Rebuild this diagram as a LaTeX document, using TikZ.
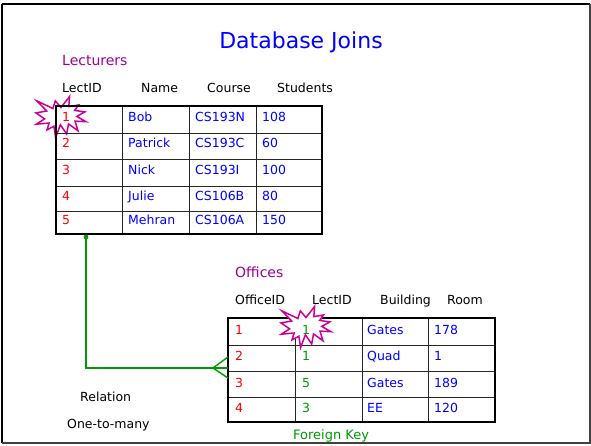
\documentclass[tikz,border=0pt]{standalone}
\usepackage{fontspec}
\setmainfont{DejaVu Sans}
\usetikzlibrary{positioning, calc}

\definecolor{idred}{RGB}{255,0,0}
\definecolor{valblue}{RGB}{0,0,255}
\definecolor{keygreen}{RGB}{0,153,0}
\definecolor{tblpurple}{RGB}{153,0,153}
\definecolor{boommag}{RGB}{204,0,153}

% explosion outline, about 50 x 41 round its centre
\tikzset{
  pics/boom/.style={code={
    \draw[boom] (0,-9.5) -- (8.6,-20.5) -- (7.8,-10.4) -- (17.5,-12) -- (13.7,-6.6)
      -- (23.8,-5.1) -- (15.8,-0.6) -- (25,4.7) -- (14,4.1) -- (17,13.8) -- (7.5,6.9)
      -- (5.7,17) -- (-0.6,7.8) -- (-5.4,20.5) -- (-7.1,9.2) -- (-14,12.9) -- (-11.9,6)
      -- (-24.7,7.2) -- (-16.4,1.9) -- (-25,-4.1) -- (-14.3,-6) -- (-24.1,-16.1)
      -- (-8.1,-8.5) -- (-5.7,-16.1) -- cycle;
  }}
}

\begin{document}
\begin{tikzpicture}[
    x=1pt, y=-1pt,
    txt/.style={font=\fontsize{12.5}{14}\selectfont, inner sep=0pt, anchor=base west, yshift=-4.5pt},
    idc/.style={txt, text=idred},
    valc/.style={txt, text=valblue},
    fkc/.style={txt, text=keygreen},
    tname/.style={font=\fontsize{14}{16}\selectfont, text=tblpurple, inner sep=0pt, anchor=base west, yshift=-5pt},
    tblframe/.style={draw=black, line width=1.8pt},
    tblrule/.style={draw=black!85, line width=0.9pt},
    link/.style={draw=keygreen, line width=1.4pt},
    boom/.style={draw=boommag, fill=white, line width=1.5pt},
  ]
\useasboundingbox (0,0) rectangle (591,445);
\draw[line width=2.4pt] (2,4) -- (590,4);
\draw[line width=2.4pt] (2,4) -- (2,443);
\draw[black!75, line width=1.4pt] (590,4) -- (590,443) -- (2,443);

\node[font=\fontsize{22}{26}\selectfont, text=valblue, inner sep=0pt] (title) at (301,42) {Database Joins};

% Lecturers
\node[tname] (lect) at (62,60) {Lecturers};
\node[txt] (hlid) at (62,88) {LectID};
\node[txt] (hname) at (141,88) {Name};
\node[txt] (hcourse) at (207,88) {Course};
\node[txt] (hstud) at (277,88) {Students};

\pic at (61,117) {boom};

\draw[tblrule] (122,106) -- (122,234) (189,106) -- (189,234) (256,106) -- (256,234);
\foreach \yy in {133,159,186,211}
  \draw[tblrule] (56,\yy) -- (322,\yy);
\draw[tblframe] (56,106) rectangle (322,234);

\foreach \yy/\lid/\who/\crs/\num in {117/1/Bob/CS193N/108, 143/2/Patrick/CS193C/60,
    170/3/Nick/CS193I/100, 196/4/Julie/CS106B/80, 220/5/Mehran/CS106A/150} {
  \node[idc] (lid\lid) at (62,\yy) {\lid};
  \node[valc] (who\lid) at (128,\yy) {\who};
  \node[valc] (crs\lid) at (195,\yy) {\crs};
  \node[valc] (num\lid) at (262,\yy) {\num};
}

% Offices
\node[tname] (offi) at (235,272) {Offices};
\node[txt] (hoid) at (235,300) {OfficeID};
\node[txt] (hfk) at (312,300) {LectID};
\node[txt] (hbld) at (380,300) {Building};
\node[txt] (hroom) at (447,300) {Room};

\draw[tblrule] (295,318) -- (295,422) (362,318) -- (362,422) (428,318) -- (428,422);
\foreach \yy in {345,371,397}
  \draw[tblrule] (228,\yy) -- (495,\yy);
\draw[tblframe] (228,318) rectangle (495,422);

\pic at (306,327) {boom};

\foreach \yy/\oid/\fk/\bld/\room in {330/1/1/Gates/178, 356/2/1/Quad/1,
    383/3/5/Gates/189, 408/4/3/EE/120} {
  \node[idc] (oid\oid) at (235,\yy) {\oid};
  \node[fkc] (fk\oid) at (302,\yy) {\fk};
  \node[valc] (bld\oid) at (367,\yy) {\bld};
  \node[valc] (room\oid) at (434,\yy) {\room};
}

\node[fkc, font=\fontsize{13}{15}\selectfont] (fklbl) at (293,435) {Foreign Key};

% one-to-many link
\coordinate (one) at (86,237);
\coordinate (many) at (228,368);
\coordinate (crow) at (213,368);
\fill[keygreen] (one) circle (2.4);
\draw[link] (one) |- (many);
\draw[link] (crow) -- (228,357) (crow) -- (228,378);

\node[txt] (rel) at (80,397) {Relation};
\node[txt] (card) at (67,424) {One-to-many};
\end{tikzpicture}
\end{document}
